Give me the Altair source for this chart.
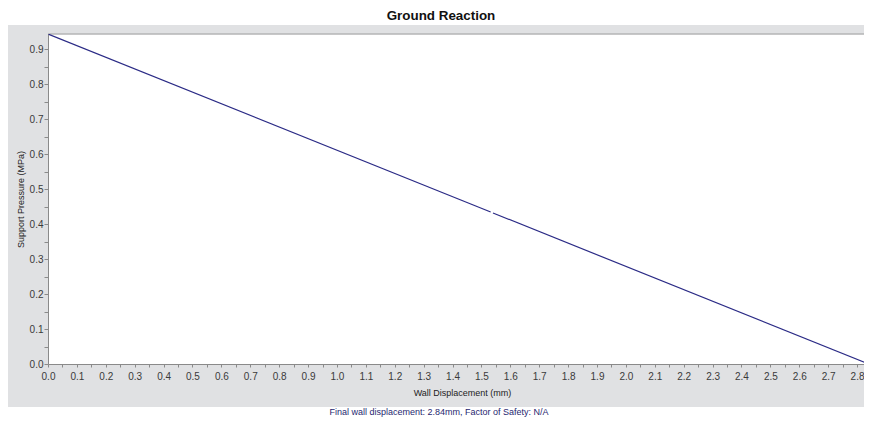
import altair as alt
import pandas as pd
import numpy as np

# Data (two segments separated by a tiny gap)
disp = [0.0, 1.532, 1.540, 2.84]
pressure = [0.9437, 0.4346, 0.4320, 0.0]
segment = ["a", "a", "b", "b"]

x_labels = [0.0, 0.1, 0.2, 0.3, 0.4, 0.5, 0.6, 0.7, 0.8, 0.9, 1.0, 1.1, 1.2, 1.3,
            1.4, 1.5, 1.6, 1.7, 1.8, 1.9, 2.0, 2.1, 2.2, 2.3, 2.4, 2.5, 2.6, 2.7, 2.8]
y_labels = [0.0, 0.1, 0.2, 0.3, 0.4, 0.5, 0.6, 0.7, 0.8, 0.9]
x_ticks = sorted(set([round(v, 2) for v in x_labels] + [round(v + 0.05, 2) for v in x_labels]))
y_ticks = sorted(set([round(v, 2) for v in y_labels] + [round(v + 0.05, 2) for v in y_labels]))

title_text = "Ground Reaction"
footer_text = "Final wall displacement: 2.84mm, Factor of Safety: N/A"

W, H = 816, 330
FONT = "Liberation Sans"

df = pd.DataFrame({"disp": disp, "pressure": pressure, "segment": segment})
one = pd.DataFrame({"k": [0]})

label_expr = "(round(datum.value*100) % 10 == 0) ? format(datum.value, '.1f') : ''"

xscale = alt.Scale(domain=[0, 2.824], nice=False, zero=False)
yscale = alt.Scale(domain=[0, 0.9437], nice=False)

gray = alt.Chart(one).mark_rect(color="#e0e1e3").encode(
    x=alt.value(-42), x2=alt.value(W), y=alt.value(-9), y2=alt.value(373)
)
white = alt.Chart(one).mark_rect(color="#ffffff").encode(
    x=alt.value(0), x2=alt.value(W), y=alt.value(0), y2=alt.value(H)
)
topline = alt.Chart(one).mark_rule(color="#b4b4b6", strokeWidth=1.5).encode(
    x=alt.value(0), x2=alt.value(W), y=alt.value(0)
)

line = alt.Chart(df).mark_line(color="#2b2b86", strokeWidth=1.2, clip=True).encode(
    x=alt.X("disp:Q", scale=xscale,
            axis=alt.Axis(values=x_ticks, labelExpr=label_expr, title="Wall Displacement (mm)",
                          titleX=414, titleY=28, titleBaseline="middle", titleAlign="center",
                          tickSize=3, labelPadding=4, labelFlush=False, labelOverlap=False,
                          zindex=2)),
    y=alt.Y("pressure:Q", scale=yscale,
            axis=alt.Axis(values=y_ticks, labelExpr=label_expr, title="Support Pressure (MPa)",
                          titleX=-28, titleY=165, titleAngle=270, titleBaseline="middle",
                          titleAlign="center", tickSize=4, labelPadding=1,
                          labelFlush=False, labelOverlap=False, zindex=2)),
    detail="segment:N",
)

title = alt.Chart(pd.DataFrame({"t": [title_text]})).mark_text(
    font=FONT, fontSize=13.4, fontWeight="bold", color="#111111",
    align="center", baseline="alphabetic"
).encode(text="t:N", x=alt.value(393), y=alt.value(-14))

footer = alt.Chart(pd.DataFrame({"t": [footer_text]})).mark_text(
    font=FONT, fontSize=9, color="#1f1f70", align="center", baseline="middle"
).encode(text="t:N", x=alt.value(391), y=alt.value(378))

chart = alt.layer(gray, white, topline, line, title, footer).properties(
    width=W, height=H,
    padding={"left": 40, "top": 26, "right": 0, "bottom": 54},
    autosize=alt.AutoSizeParams(type="none"),
    background="#ffffff",
).configure_view(stroke="transparent").configure_axis(
    grid=False, domainColor="#8a8a8a", tickColor="#8a8a8a", labelColor="#3a3a3a",
    labelFont=FONT, labelFontSize=10, titleFont=FONT, titleFontSize=9,
    titleFontWeight="normal", titleColor="#222222",
)

chart.save("out.html", embed_options={"renderer": "svg", "actions": False})
